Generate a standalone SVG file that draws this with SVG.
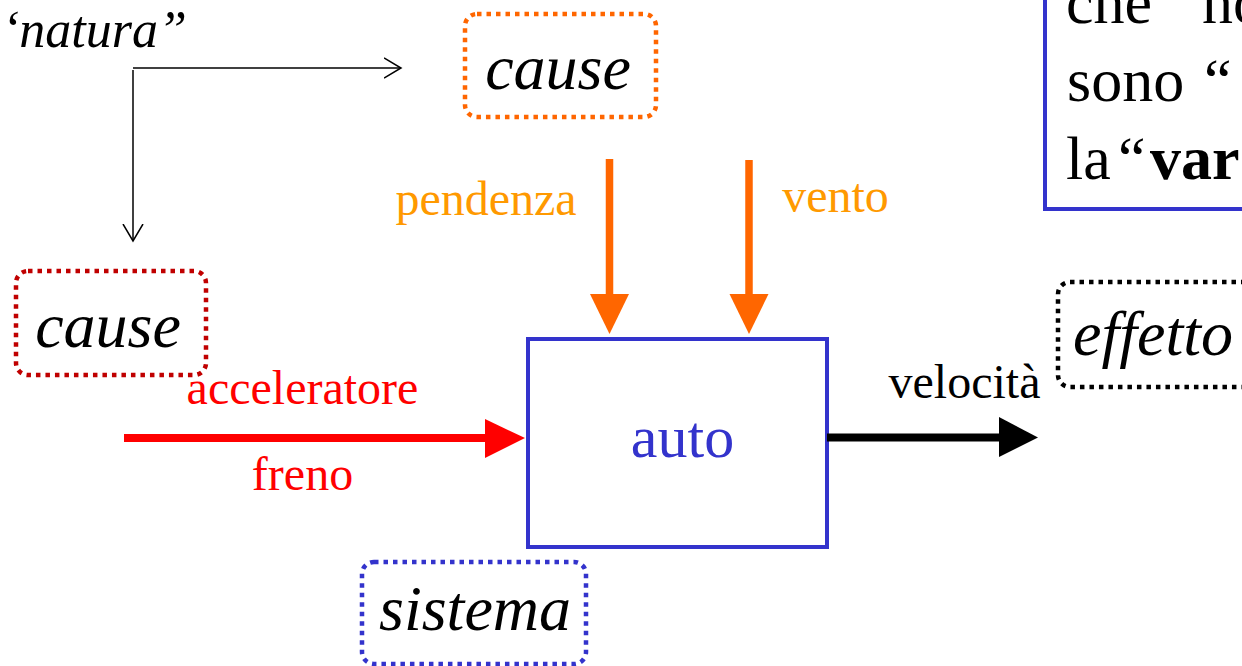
<svg xmlns="http://www.w3.org/2000/svg" width="1242" height="666" viewBox="0 0 1242 666">
<style>
.it{font-family:"Liberation Serif",serif;font-style:italic;font-size:64px;fill:#000}
.lb{font-family:"Liberation Serif",serif;font-size:48px}
.dot{fill:none;stroke-width:4.5;stroke-dasharray:4.5 5}
.tx{font-family:"Liberation Serif",serif;font-size:62px;fill:#000}
</style>
<defs>
<marker id="open" markerWidth="20" markerHeight="24" refX="17" refY="12" orient="auto" markerUnits="userSpaceOnUse">
<path d="M0,2 L17,12 L0,22" fill="none" stroke="#000" stroke-width="1.5"/>
</marker>
</defs>
<rect width="1242" height="666" fill="#fff"/>
<g id="natura">
<text class="it" x="2" y="47" style="font-size:52px">‘natura”</text>
</g>
<g id="note">
<rect x="1045" y="-20" width="230" height="229" fill="none" stroke="#3333CC" stroke-width="4"/>
<text class="tx"><tspan x="1066" y="23">che</tspan><tspan x="1202" y="23">no</tspan><tspan x="1067" y="101">sono</tspan><tspan x="1204" y="101">“</tspan><tspan x="1066" y="179">la</tspan><tspan x="1118" y="179">“</tspan><tspan x="1150" y="179" font-weight="bold">var</tspan></text>
</g>
<g id="cause-top">
<rect class="dot" x="465" y="14" width="191" height="103" rx="12" stroke="#FF6600"/>
<text class="it" x="558" y="89" text-anchor="middle">cause</text>
</g>
<g id="cause-left">
<rect class="dot" x="16" y="271" width="190" height="104" rx="12" stroke="#C00000"/>
<text class="it" x="108" y="347" text-anchor="middle">cause</text>
</g>
<g id="effetto">
<rect class="dot" x="1058" y="282" width="200" height="105" rx="12" stroke="#000"/>
<text class="it" x="1073" y="355">effetto</text>
</g>
<g id="sistema">
<rect class="dot" x="362" y="562" width="224" height="102" rx="12" stroke="#3333CC"/>
<text class="it" x="475" y="630" text-anchor="middle">sistema</text>
</g>
<g id="auto">
<rect x="528" y="339" width="299" height="208" fill="none" stroke="#3333CC" stroke-width="4"/>
<text class="lb" x="682.5" y="457" text-anchor="middle" fill="#3333CC" style="font-size:60px">auto</text>
</g>
<g id="connectors">
<line x1="133" y1="68" x2="401" y2="68" stroke="#000" stroke-width="1.5" marker-end="url(#open)"/>
<line x1="133" y1="70" x2="133" y2="241" stroke="#000" stroke-width="1.5" marker-end="url(#open)"/>
<line x1="609.5" y1="159" x2="609.5" y2="296" stroke="#FF6600" stroke-width="7.5"/>
<polygon points="590,294 629,294 609.5,334" fill="#FF6600"/>
<line x1="749" y1="160" x2="749" y2="296" stroke="#FF6600" stroke-width="7.5"/>
<polygon points="729.5,294 768.5,294 749,334" fill="#FF6600"/>
<line x1="124" y1="438" x2="487" y2="438" stroke="#FF0000" stroke-width="8"/>
<polygon points="485,419 485,458 525,438" fill="#FF0000"/>
<line x1="827" y1="437.5" x2="1001" y2="437.5" stroke="#000" stroke-width="8"/>
<polygon points="999,417 999,457 1038,437.5" fill="#000"/>
<text class="lb" x="302.5" y="404" text-anchor="middle" fill="#FF0000">acceleratore</text>
<text class="lb" x="302.5" y="490" text-anchor="middle" fill="#FF0000">freno</text>
<text class="lb" x="486" y="215" text-anchor="middle" fill="#FF9900">pendenza</text>
<text class="lb" x="835.5" y="212" text-anchor="middle" fill="#FF9900">vento</text>
<text class="lb" x="964.5" y="398" text-anchor="middle" fill="#000">velocità</text>
</g>
</svg>
